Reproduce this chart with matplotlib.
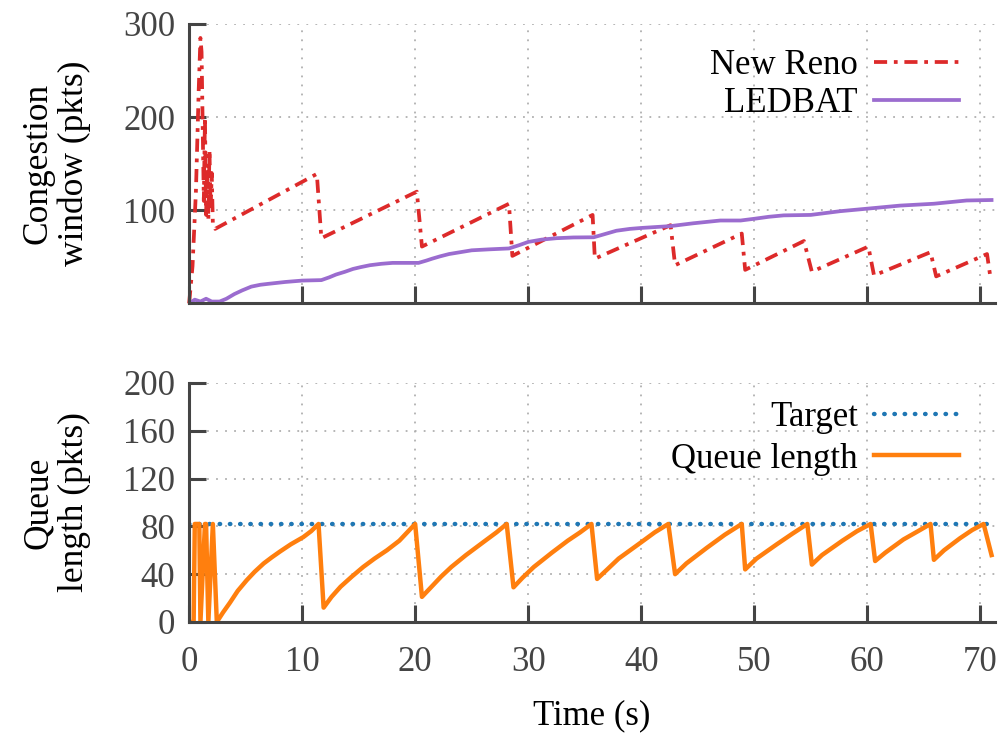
import matplotlib
matplotlib.use("Agg")
import matplotlib.pyplot as plt

# ---- data ----
nr_t = [0, 0.3, 0.6, 0.85, 1.0, 1.1, 1.2, 1.3, 1.4, 1.5, 1.6, 1.7, 1.8, 1.9, 2.0, 2.1, 2.3,
        11.3, 11.7, 20.15, 20.6, 28.3, 28.6, 35.7, 35.9, 42.6, 43.0, 48.9, 49.2,
        54.4, 55.1, 60.1, 60.6, 65.6, 66.1, 70.6, 70.9]
nr_v = [0, 40, 120, 230, 285, 270, 190, 110, 200, 95, 150, 90, 165, 100, 140, 85, 80,
        139, 70, 120, 61, 107, 51, 95, 48, 84, 41, 75, 36,
        67, 34, 61, 30, 55, 29, 53, 28]

lb_t = [0, 0.5, 1.0, 1.5, 2.0, 2.7, 3.3, 4.0, 4.7, 5.5, 6.3, 7.0, 8.5, 10.0, 11.7, 12.4, 13.0,
        13.8, 14.5, 15.2, 16.0, 17.0, 18.0, 20.3, 21.0, 21.5, 22.2, 23.0, 24.0, 25.0, 26.5,
        28.3, 29.2, 30.0, 31.2, 32.5, 34.0, 35.8, 36.8, 37.8, 39.0, 40.0, 41.3, 42.6, 44.6,
        47.0, 48.8, 50.1, 51.3, 52.6, 55.0, 57.6, 60.0, 62.9, 65.9, 68.8, 71.0]
lb_v = [0, 4, 2, 5, 2, 2, 5, 10, 14, 18, 20, 21, 23, 24.5, 25, 28, 31,
        34, 37, 39, 41, 42.5, 43.5, 43.5, 46, 48, 50.5, 53, 55, 57, 58,
        59, 62.5, 66, 68.5, 70, 70.8, 71, 74.5, 78, 80, 81, 82, 83, 86,
        89, 89, 91, 93, 94.5, 95, 99, 101.7, 105, 107, 110.5, 111]

q_t = [0, 0.4, 0.5, 0.9, 1.0, 1.4, 1.5, 1.7, 2.1, 2.45,
       3.0, 3.6, 4.3, 5.1, 5.8, 6.6, 7.3, 8.05, 9.0, 10.1, 10.8, 11.45,
       11.9, 12.6, 13.4, 14.4, 15.4, 16.4, 17.5, 18.6, 19.4, 20.0,
       20.6, 21.5, 22.3, 23.2, 24.5, 26.2, 27.2, 28.1,
       28.7, 29.5, 30.5, 32.1, 33.5, 34.6, 35.6,
       36.1, 37.0, 38.0, 39.9, 41.2, 42.4,
       43.0, 44.0, 45.8, 47.4, 48.9,
       49.2, 50.2, 52.0, 53.4, 54.7,
       55.1, 56.0, 57.8, 59.1, 60.3,
       60.7, 61.6, 63.2, 64.5, 65.6,
       65.9, 66.8, 68.2, 69.3, 70.3, 71.0]
q_v = [0, 0, 82, 82, 0, 82, 82, 0, 82, 0,
       8, 16, 26, 35, 42, 49, 54, 59, 65, 71, 76, 82,
       12, 21, 29.5, 38, 46, 53, 60, 68, 76, 82,
       21, 30, 38, 46, 56, 68, 75, 82,
       29, 37, 46, 58, 68, 75, 82,
       36, 44, 53, 66, 75, 82,
       40, 49, 62, 73, 82,
       44, 53, 65, 74, 82,
       48, 56, 68, 76, 82,
       51, 58, 69, 76, 82,
       52, 60, 70, 77, 82, 56]

target_v = 82
x_ticks = [0, 10, 20, 30, 40, 50, 60, 70]
top_yticks = [100, 200, 300]
bot_yticks = [0, 40, 80, 120, 160, 200]

FS = 25
plt.rcParams['font.family'] = ['Liberation Serif', 'DejaVu Serif']
plt.rcParams['font.size'] = FS

fig = plt.figure(figsize=(10.06, 7.4), dpi=100)
ax1 = fig.add_axes([0.188, 0.590, 0.801, 0.3776])
ax2 = fig.add_axes([0.188, 0.1595, 0.801, 0.323])

for ax in (ax1, ax2):
    for s in ('top', 'right'):
        ax.spines[s].set_visible(False)
    for s in ('left', 'bottom'):
        ax.spines[s].set_linewidth(2.2)
        ax.spines[s].set_color('#444444')
    ax.tick_params(direction='in', length=12, width=2.2, color='#444444',
                   labelcolor='#444444', labelsize=FS)
    ax.tick_params(axis='y', pad=10)
    ax.tick_params(axis='x', pad=17)
    ax.grid(True, color='#b0b0b0', linestyle=(0, (1, 4)), linewidth=1.3)
    ax.set_xlim(0, 71.3)
    ax.set_xticks(x_ticks)
    ax.set_axisbelow(True)

ax1.plot(nr_t, nr_v, color='#dd2a2a', linewidth=2.7, dashes=(3.5, 1.8, 1, 1.8),
         label='New Reno', clip_on=False)
ax1.plot(lb_t, lb_v, color='#9b6ccf', linewidth=2.7, label='LEDBAT')
ax1.set_ylim(0, 300)
ax1.set_yticks(top_yticks)
ax1.tick_params(axis='x', labelbottom=False)
ax1.set_ylabel('Congestion\nwindow (pkts)', fontsize=25.5, linespacing=1.12)
ax1.yaxis.set_label_coords(-0.122, 0.5)

ax2.axhline(target_v, color='#1f77b4', linewidth=3.2, linestyle=(0, (0.1, 2.2)),
            dash_capstyle='round', label='Target')
ax2.plot(q_t, q_v, color='#ff7f0e', linewidth=3.2, label='Queue length')
ax2.set_ylim(0, 200)
ax2.set_yticks(bot_yticks)
ax2.set_ylabel('Queue\nlength (pkts)', fontsize=25.5, linespacing=1.12)
ax2.yaxis.set_label_coords(-0.122, 0.5)
ax2.set_xlabel('Time (s)', fontsize=FS, labelpad=15)

for ax, y, ls in ((ax1, 0.91, 0.15), (ax2, 0.925, 0.25)):
    ax.legend(loc='upper right', bbox_to_anchor=(0.955, y), frameon=False,
              markerfirst=False, handlelength=2.45, labelspacing=ls,
              handletextpad=0.45, borderaxespad=0, borderpad=0, fontsize=FS)

fig.savefig('out.png', dpi=100)
